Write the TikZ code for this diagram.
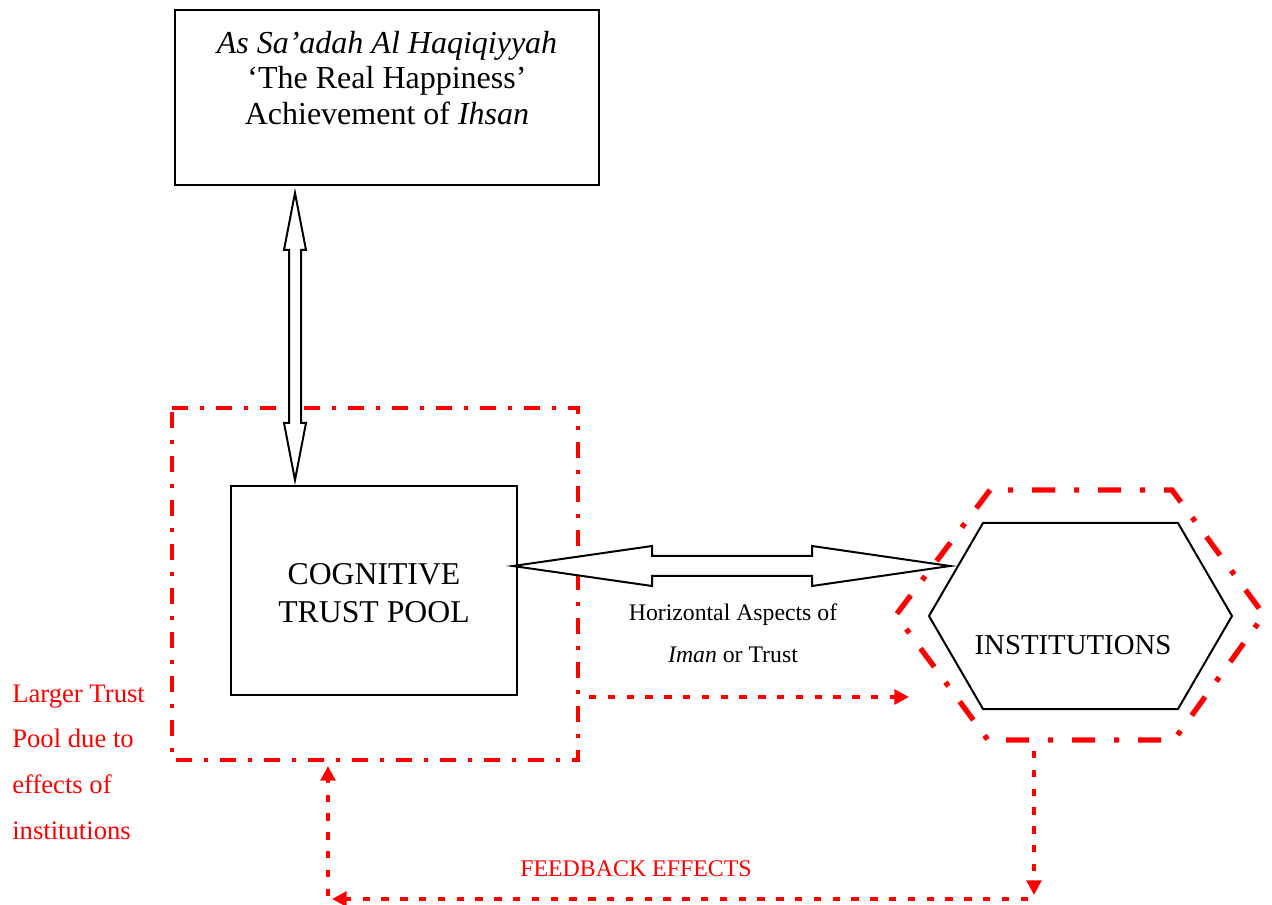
\documentclass[tikz,border=0pt]{standalone}
\usepackage{fontspec}
\setmainfont{Liberation Serif}
\usetikzlibrary{arrows.meta}
\definecolor{rd}{RGB}{255,0,0}
\begin{document}
\begin{tikzpicture}[x=0.75pt,y=-0.75pt,
  box/.style={draw,line width=1.5pt,inner sep=0pt},
  blockarrow/.style={draw,fill=white,line width=1.5pt,line join=miter},
  reddashdot/.style={draw=rd,line width=3pt,dash pattern=on 12pt off 9pt on 3pt off 9pt},
  hexred/.style={draw=rd,line width=4pt,dash pattern=on 17.25pt off 14.25pt on 3.75pt off 14.25pt,dash phase=18pt},
  redarrow/.style={draw=rd,line width=2.8pt,dash pattern=on 5.5pt off 8.6pt,-{Triangle[length=11pt,width=11pt]}},
  lbl/.style={inner sep=0pt,align=center}
]
\useasboundingbox (0,0) rectangle (1272,905);

% larger trust pool (red dash-dot)
\draw[reddashdot] (172,408) -- (578,408) -- (578,760) -- (172,760) -- cycle;

% top box
\node[box,minimum width=318pt,minimum height=131.25pt] (top) at (387,97.5) {};
\node[lbl,font=\fontsize{24}{26.6}\selectfont] (toptext) at (387,78)
  {\textit{As Sa’adah Al Haqiqiyyah}\\‘The Real Happiness’\\Achievement of \textit{Ihsan}};

% cognitive trust pool
\node[box,minimum width=214.5pt,minimum height=156.75pt] (ctp) at (374,590.5) {};
\node[lbl,font=\fontsize{23.8}{28.5}\selectfont] (ctptext) at (374,593) {COGNITIVE\\TRUST POOL};

% vertical block double arrow
\draw[blockarrow] (295,193) -- (306,250) -- (301,250) -- (301,423) -- (306,423) -- (295,480)
  -- (284,423) -- (289,423) -- (289,250) -- (284,250) -- cycle;

% horizontal block double arrow
\draw[blockarrow] (513,566) -- (652,546) -- (652,556) -- (812,556) -- (812,546) -- (950,566)
  -- (812,586) -- (812,576) -- (652,576) -- (652,586) -- cycle;

% institutions hexagon
\draw[line width=1.5pt] (929,616) -- (983,523) -- (1178,523) -- (1232,616) -- (1178,709) -- (983,709) -- cycle;
\draw[hexred] (990,490) -- (1172,490) -- (1264,615) -- (1174,740) -- (988,740) -- (896,615) -- cycle;
\node[lbl,font=\fontsize{21.6}{26}\selectfont] (inst) at (1073,645) {INSTITUTIONS};

% labels
\node[lbl,font=\fontsize{17.8}{31.5}\selectfont] (horiz) at (733,633) {Horizontal Aspects of\\\textit{Iman} or Trust};
\node[lbl,align=left,anchor=west,text=rd,font=\fontsize{20}{34.3}\selectfont] (larger) at (12,762)
  {Larger Trust\\Pool due to\\effects of\\institutions};
\node[lbl,text=rd,font=\fontsize{17.9}{22}\selectfont] (fb) at (636,869) {FEEDBACK EFFECTS};

% red dashed arrows
\coordinate (a1) at (589,697);
\coordinate (a2) at (909,697);
\draw[redarrow] (a1) -- (a2);
\coordinate (f1) at (1034,751);
\coordinate (f2) at (1034,895);
\coordinate (f3) at (1028,899);
\coordinate (f4) at (332,899);
\coordinate (f5) at (328,896);
\coordinate (f6) at (328,766);
\draw[redarrow] (f1) -- (f2);
\draw[redarrow] (f3) -- (f4);
\draw[redarrow] (f5) -- (f6);
\end{tikzpicture}
\end{document}
